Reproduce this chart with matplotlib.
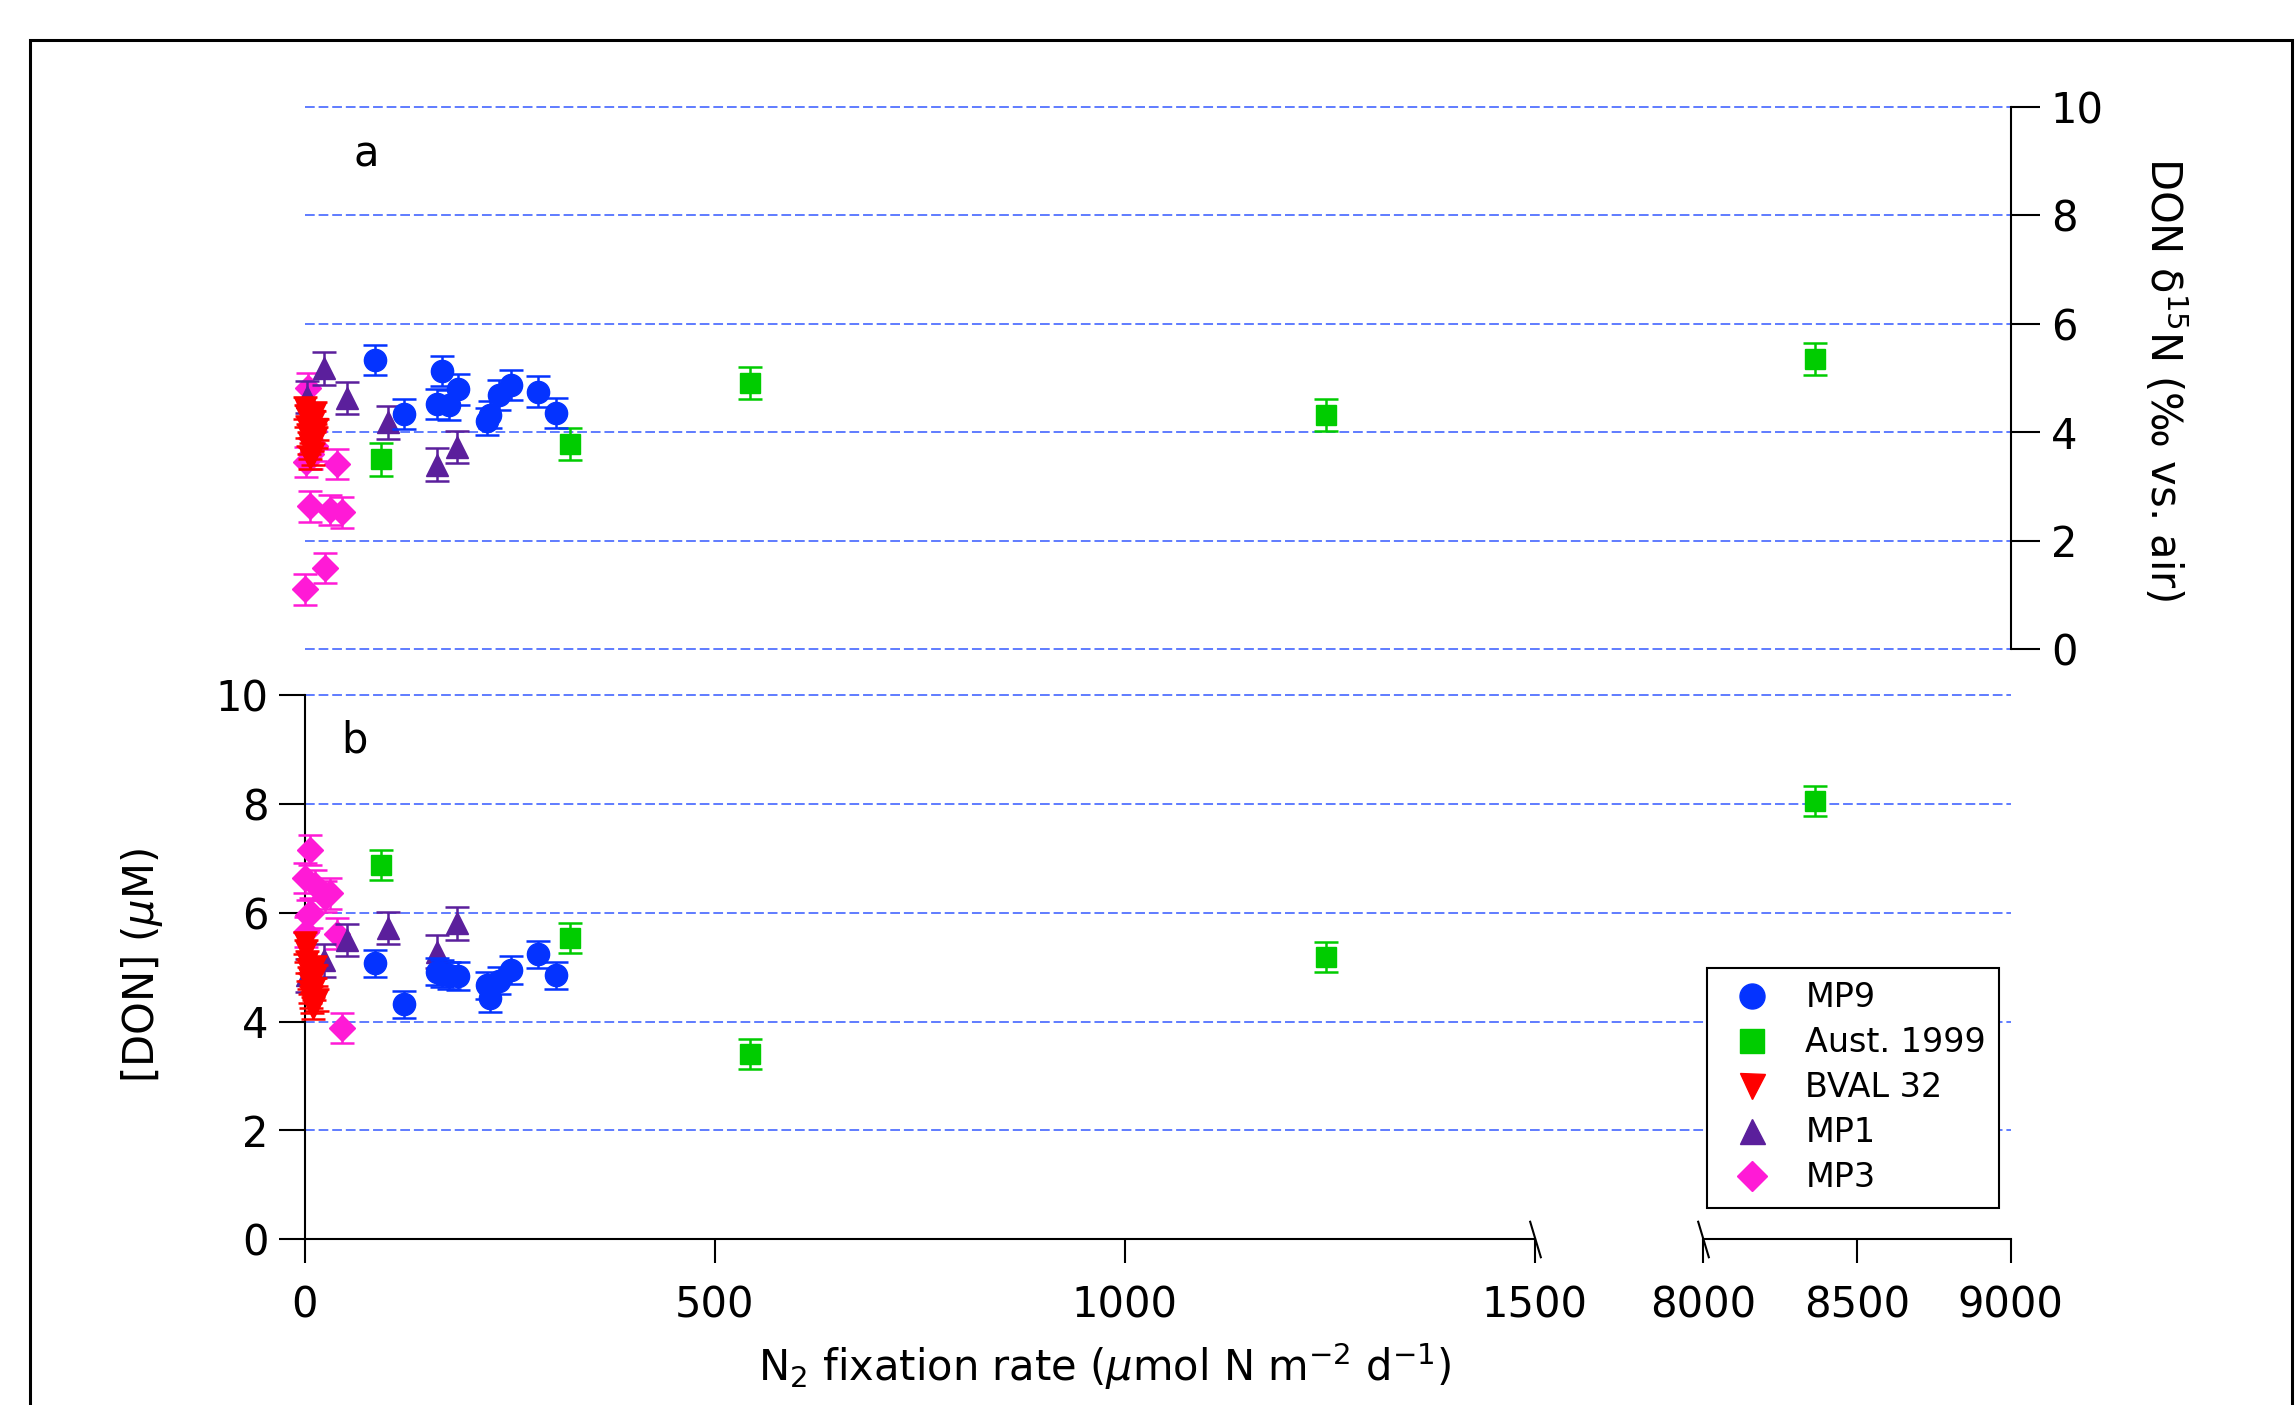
import numpy as np
import matplotlib
matplotlib.use('Agg')
import matplotlib.pyplot as plt
from matplotlib.lines import Line2D
from matplotlib.patches import Rectangle

plt.rcParams['font.family'] = ['DejaVu Sans']
plt.rcParams['mathtext.fontset'] = 'dejavusans'

# N2 fixation rate (umol N m-2 d-1), DON d15N (permil) and [DON] (uM) per data set
mp9_x = [86, 121, 161, 168, 176, 187, 222, 226, 237, 252, 284, 307]
mp9_d15n = [5.33, 4.34, 4.52, 5.13, 4.50, 4.79, 4.20, 4.32, 4.69, 4.87, 4.75, 4.35]
mp9_d15n_err = [0.28, 0.28, 0.28, 0.28, 0.28, 0.28, 0.25, 0.25, 0.28, 0.28, 0.28, 0.28]
mp9_don = [5.07, 4.32, 4.92, 4.88, 4.85, 4.84, 4.67, 4.43, 4.75, 4.95, 5.24, 4.85]
mp9_don_err = [0.25, 0.25, 0.25, 0.25, 0.25, 0.25, 0.25, 0.25, 0.25, 0.25, 0.25, 0.25]

aust_x = [93, 323, 543, 1245, 8363]
aust_d15n = [3.50, 3.78, 4.91, 4.32, 5.35]
aust_d15n_err = [0.30, 0.30, 0.30, 0.29, 0.30]
aust_don = [6.88, 5.54, 3.40, 5.19, 8.06]
aust_don_err = [0.28, 0.28, 0.28, 0.28, 0.28]

bval_x = [1, 2, 3, 4, 5, 6, 7, 8, 9, 10, 11, 12, 14, 15]
bval_d15n = [4.45, 4.30, 4.10, 3.95, 3.80, 3.70, 3.52, 4.00, 3.85, 3.60, 4.20, 4.35, 3.90, 4.05]
bval_d15n_err = [0.2, 0.2, 0.2, 0.2, 0.2, 0.2, 0.2, 0.2, 0.2, 0.2, 0.2, 0.2, 0.2, 0.2]
bval_don = [5.45, 5.30, 5.10, 4.95, 4.80, 4.70, 4.55, 4.45, 4.35, 4.25, 4.60, 5.00, 4.85, 4.40]
bval_don_err = [0.2, 0.2, 0.2, 0.2, 0.2, 0.2, 0.2, 0.2, 0.2, 0.2, 0.2, 0.2, 0.2, 0.2]

mp1_x = [3, 23, 52, 102, 161, 186]
mp1_d15n = [4.65, 5.18, 4.63, 4.18, 3.40, 3.73]
mp1_d15n_err = [0.3, 0.3, 0.3, 0.3, 0.3, 0.3]
mp1_don = [4.85, 5.13, 5.50, 5.72, 5.29, 5.81]
mp1_don_err = [0.3, 0.3, 0.3, 0.3, 0.3, 0.3]

mp3_x = [1, 25, 6, 31, 46, 39, 4, 2, 8, 12]
mp3_d15n = [1.10, 1.50, 2.63, 2.56, 2.52, 3.41, 4.81, 3.45, 3.60, 3.75]
mp3_d15n_err = [0.28, 0.28, 0.28, 0.28, 0.28, 0.28, 0.28, 0.28, 0.28, 0.28]
mp3_don = [6.64, 6.30, 7.16, 6.36, 3.88, 5.62, 5.96, 5.65, 6.00, 6.51]
mp3_don_err = [0.28, 0.28, 0.28, 0.28, 0.28, 0.28, 0.28, 0.28, 0.28, 0.28]

x_ticks = [0, 500, 1000, 1500, 8000, 8500, 9000]
y_ticks = [0, 2, 4, 6, 8, 10]

# broken x axis: 0-1500 wide, 8000-9000 compressed
brk_x = [-1000, 0, 1500, 8000, 9000, 10000]
brk_p = [-820, 0, 1230, 1398.4, 1705.9, 2013.4]


def fwd(x):
    return np.interp(x, brk_x, brk_p)


def inv(p):
    return np.interp(p, brk_p, brk_x)


series = [
    ('MP9', 'o', '#0433ff', 16, mp9_x, mp9_d15n, mp9_d15n_err, mp9_don, mp9_don_err),
    ('Aust. 1999', 's', '#00cc00', 15, aust_x, aust_d15n, aust_d15n_err, aust_don, aust_don_err),
    ('BVAL 32', 'v', '#ff0000', 16, bval_x, bval_d15n, bval_d15n_err, bval_don, bval_don_err),
    ('MP1', '^', '#5b1f9c', 16, mp1_x, mp1_d15n, mp1_d15n_err, mp1_don, mp1_don_err),
    ('MP3', 'D', '#ff1ad6', 13, mp3_x, mp3_d15n, mp3_d15n_err, mp3_don, mp3_don_err),
]

fig = plt.figure(figsize=(22.96, 14.05), dpi=100)
ax_top = fig.add_axes([0.1327, 0.5381, 0.743, 0.3857])
ax_bot = fig.add_axes([0.1327, 0.1181, 0.743, 0.3869])

grid_color = '#5f7cff'
for ax in (ax_top, ax_bot):
    ax.set_xscale('function', functions=(fwd, inv))
    ax.set_xlim(0, 9000)
    ax.set_ylim(0, 10)
    ax.set_yticks(y_ticks)
    ax.set_xticks(x_ticks)
    ax.set_facecolor('none')
    for yv in y_ticks:
        if ax is ax_bot and yv == 0:
            continue
        ax.axhline(yv, color=grid_color, lw=1.4, ls=(0, (5, 2)), zorder=0, clip_on=False)

# draw in reverse legend order so MP9 ends up on top
for i, (name, mk, col, ms, x, d15n, d15n_err, don, don_err) in enumerate(series[::-1]):
    for ax, y, err in ((ax_top, d15n, d15n_err), (ax_bot, don, don_err)):
        ax.errorbar(x, y, yerr=err, fmt='none', ecolor=col, elinewidth=1.8,
                    capsize=8.5, capthick=1.8, zorder=3 + 0.1 * i, clip_on=False)
        ax.plot(x, y, ls='none', marker=mk, color=col, ms=ms, mew=1, mec=col,
                zorder=3 + 0.1 * i + 0.05, clip_on=False)

# top panel: right axis only
for s in ('left', 'top', 'bottom'):
    ax_top.spines[s].set_visible(False)
ax_top.spines['right'].set_linewidth(1.5)
ax_top.yaxis.tick_right()
ax_top.tick_params(axis='x', bottom=False, labelbottom=False)
ax_top.tick_params(axis='y', direction='out', length=21, width=1.5, labelsize=30, pad=8)
ax_top.text(0.036, 0.913, 'a', transform=ax_top.transAxes, fontsize=30, ha='center', va='center')

# bottom panel: left axis and broken x axis
for s in ('right', 'top'):
    ax_bot.spines[s].set_visible(False)
ax_bot.spines['left'].set_linewidth(1.5)
ax_bot.spines['bottom'].set_linewidth(1.5)
ax_bot.spines['bottom'].set_bounds(0, 1500)
ax_bot.plot([8000, 9000], [0, 0], color='k', lw=1.5, transform=ax_bot.get_xaxis_transform(),
            clip_on=False, zorder=4)
ax_bot.plot([1500, 8000], [0, 0], ls='none', marker=[(-0.3, 1), (0.3, -1)], ms=27,
            mec='k', mfc='none', mew=1.5, transform=ax_bot.get_xaxis_transform(),
            clip_on=False, zorder=4)
ax_bot.tick_params(axis='both', direction='out', width=1.5, labelsize=30)
ax_bot.tick_params(axis='y', length=19, pad=7)
ax_bot.tick_params(axis='x', length=17, pad=16)
ax_bot.text(0.029, 0.918, 'b', transform=ax_bot.transAxes, fontsize=30, ha='center', va='center')

handles = [Line2D([], [], ls='none', marker=mk, color=col, mew=1, ms=ms + 2)
           for name, mk, col, ms, *_ in series]
labels = [s[0] for s in series]
leg = ax_bot.legend(handles, labels, loc='upper left', bbox_to_anchor=(0.7435, 0.311),
                    bbox_transform=fig.transFigure, fontsize=24, frameon=True, fancybox=False,
                    edgecolor='black', framealpha=1, borderpad=0.4, handlelength=1.9,
                    handletextpad=0.65, labelspacing=0.36, borderaxespad=0)
leg.get_frame().set_linewidth(1.5)
leg.set_zorder(10)

fig.text(1105 / 2296, 1 - 1366 / 1405,
         r'N$_2$ fixation rate ($\mu$mol N m$^{-2}$ d$^{-1}$)',
         fontsize=30, ha='center', va='center')
fig.text(142 / 2296, 1 - 966 / 1405, r'[DON] ($\mu$M)', fontsize=30,
         rotation=90, ha='center', va='center')
fig.text(2164 / 2296, 1 - 379 / 1405, 'DON δ$^{15}$N (‰ vs. air)', fontsize=30,
         rotation=-90, ha='center', va='center')

# outer frame
fig.patches.append(Rectangle((30 / 2296, -0.05), (2292 - 30) / 2296, 1.05 - 40 / 1405,
                             transform=fig.transFigure, fill=False, ec='black', lw=2.2))

fig.savefig('out.png', dpi=100)
